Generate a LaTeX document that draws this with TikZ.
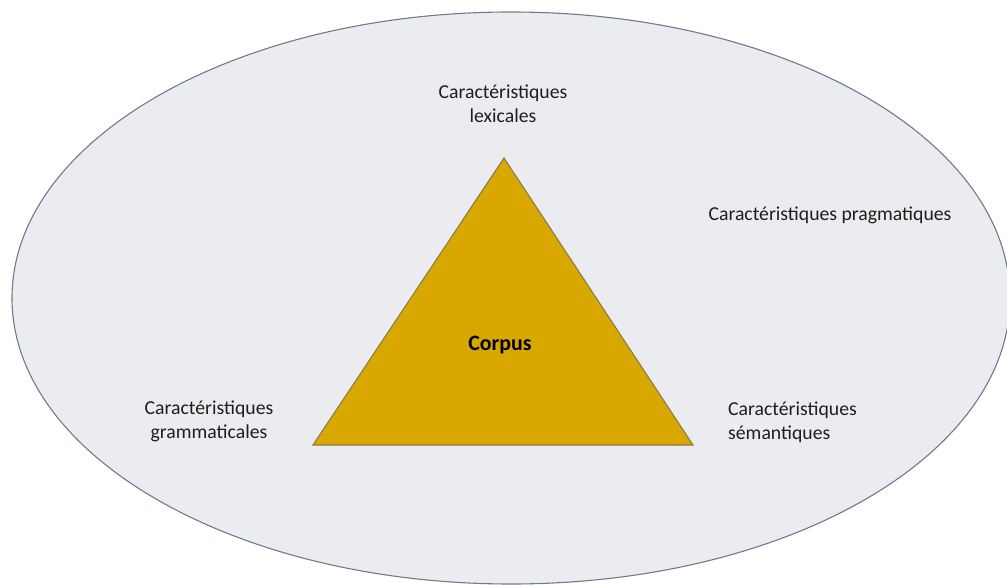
\documentclass[tikz,border=0pt]{standalone}
\usepackage{fontspec}
\setmainfont{Carlito}
\definecolor{fondgris}{HTML}{EBECEF}
\definecolor{bordgris}{HTML}{6F7B8B}
\definecolor{or}{HTML}{D9A800}
\definecolor{bordor}{HTML}{8A7C4A}
\definecolor{texte}{HTML}{1E1E1E}
\begin{document}
\begin{tikzpicture}[x=1bp,y=-1bp,
    label/.style={inner sep=0pt,text=texte,font=\fontsize{19.8}{24}\selectfont},
    centre/.style={label,align=center},
    gauche/.style={label,align=left}]
    \useasboundingbox (0,0) rectangle (1007,585);
    % l'ellipse de fond
    \filldraw[fill=fondgris,draw=bordgris,line width=1.1bp] (511,298) ellipse [x radius=499,y radius=286];
    % le triangle
    \coordinate (sommet) at (504,158);
    \coordinate (basg) at (313,445);
    \coordinate (basd) at (693,445);
    \filldraw[fill=or,draw=bordor,line width=1.1bp] (sommet) -- (basg) -- (basd) -- cycle;
    \node (corpus) [inner sep=0pt,font=\fontsize{22}{26}\bfseries] at (500,345) {Corpus};
    \node (lex) [centre] at (503,104) {Caractéristiques\\lexicales};
    \node (prag) [label] at (830,215) {Caractéristiques pragmatiques};
    \node (gram) [centre] at (209,421) {Caractéristiques\\grammaticales};
    \node (sem) [gauche,anchor=west] at (728,422) {Caractéristiques\\sémantiques};
\end{tikzpicture}
\end{document}
